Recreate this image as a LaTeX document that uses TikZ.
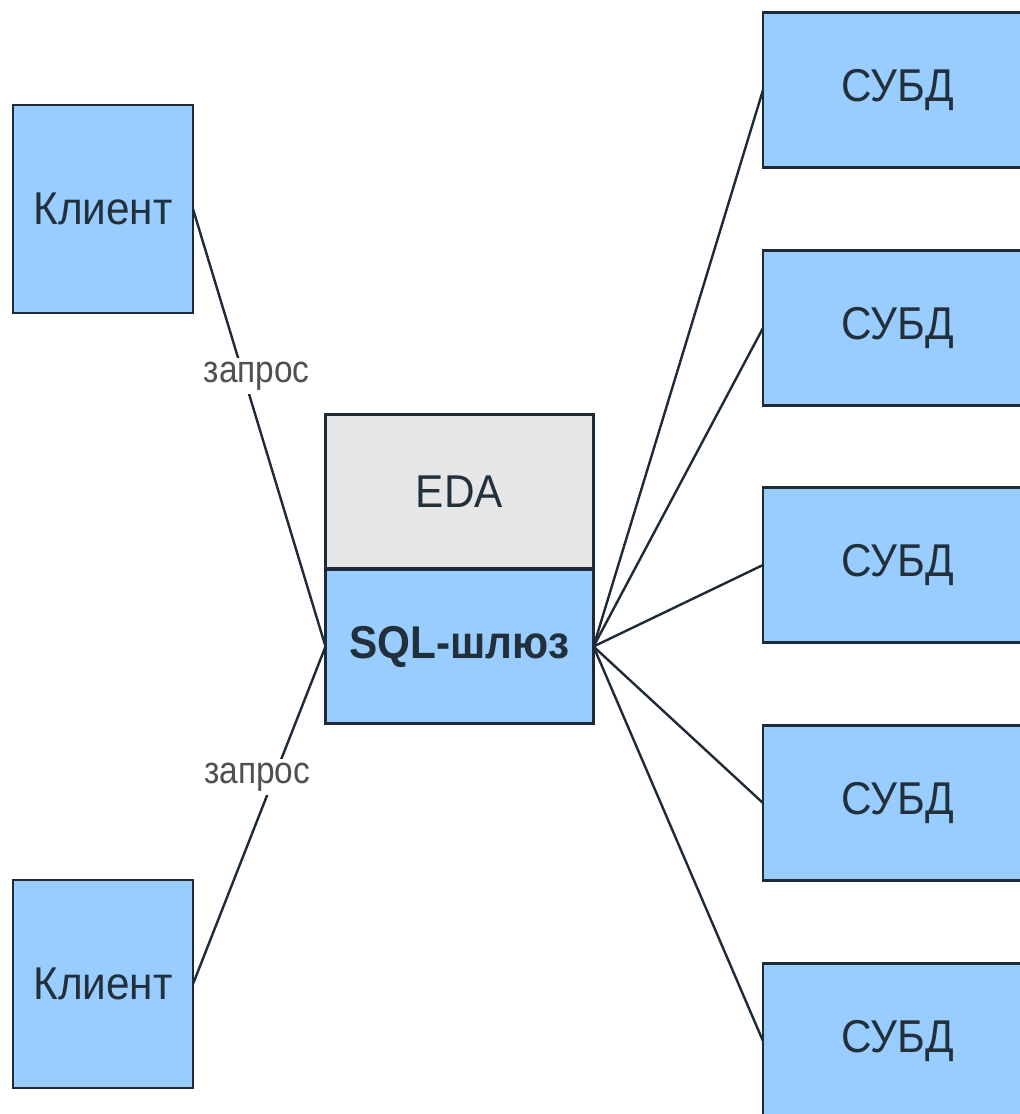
\documentclass[tikz,border=0pt]{standalone}
\usepackage{fontspec}
\setmainfont{Liberation Sans}
\newfontfamily\boxfont[FakeStretch=0.92]{Liberation Sans}
\newfontfamily\labfont[FakeStretch=0.88]{Liberation Sans}
\definecolor{boxblue}{HTML}{99CCFF}
\definecolor{boxgray}{HTML}{E6E6E6}
\definecolor{edge}{HTML}{1E2A36}
\definecolor{txt}{HTML}{22303C}
\definecolor{lbl}{HTML}{505050}
\begin{document}
\begin{tikzpicture}[x=0.5pt,y=-0.5pt,
  box/.style={draw=edge,line width=1.2pt,fill=boxblue,inner sep=0pt,outer sep=0pt,
    text=txt,font=\boxfont\fontsize{23}{25}\selectfont},
  clientbox/.style={box,minimum width=90pt,minimum height=104pt},
  dbbox/.style={box,minimum width=135pt,minimum height=77.5pt},
  gwbox/.style={box,minimum width=134pt,minimum height=77pt},
  conn/.style={draw=edge,line width=1.2pt},
  lab/.style={fill=white,text=lbl,inner sep=2pt,font=\labfont\fontsize{19}{21}\selectfont}]
\clip (0,0) rectangle (1020,1114);
\fill[white] (0,0) rectangle (1020,1114);
% clients
\node[clientbox] (c1) at (103,209) {Клиент};
\node[clientbox] (c2) at (103,984) {Клиент};
% gateway
\node[gwbox,fill=boxgray] (eda) at (459.5,491.5) {EDA};
\node[gwbox,font=\boxfont\fontsize{23}{25}\selectfont\bfseries] (sql) at (459.5,646.5) {SQL-шлюз};
% DBMS
\node[dbbox] (d1) at (898,90) {СУБД};
\node[dbbox] (d2) at (898,328) {СУБД};
\node[dbbox] (d3) at (898,565) {СУБД};
\node[dbbox] (d4) at (898,803) {СУБД};
\node[dbbox] (d5) at (898,1041) {СУБД};
% connectors
\draw[conn] (c1.east) -- node[lab,pos=0.375,xshift=7pt,yshift=-1.5pt] (q1) {запрос} (sql.west);
\draw[conn] (c2.east) -- node[lab,pos=0.62,xshift=-9pt,yshift=-1pt] (q2) {запрос} (sql.west);
\foreach \d in {d1,d2,d3,d4,d5}
  \draw[conn] (sql.east) -- (\d.west);
\end{tikzpicture}
\end{document}
